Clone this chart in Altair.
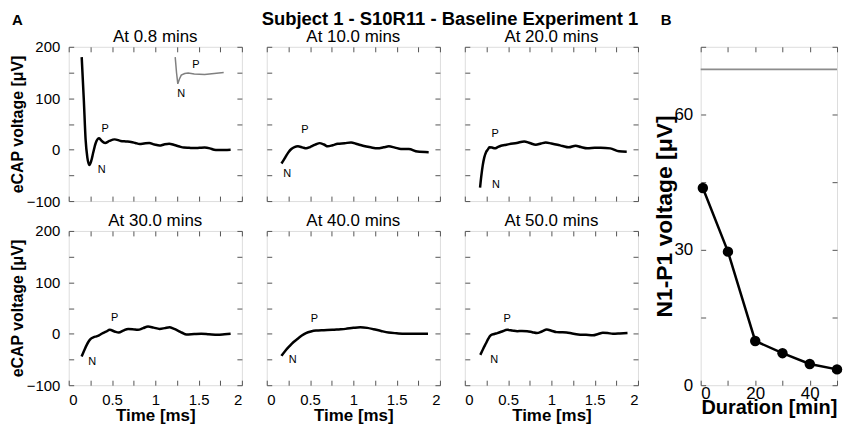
import altair as alt
import pandas as pd

FONT = "Liberation Sans"

# ---------------- data ----------------
main_title = "Subject 1 - S10R11 - Baseline Experiment 1"
titles = ["At 0.8 mins", "At 10.0 mins", "At 20.0 mins",
          "At 30.0 mins", "At 40.0 mins", "At 50.0 mins"]

t1 = [0.15, 0.175, 0.195, 0.215, 0.238, 0.26, 0.284, 0.31, 0.352, 0.38, 0.42, 0.47, 0.53, 0.6, 0.66,
      0.72, 0.77, 0.82, 0.87, 0.93, 0.99, 1.05, 1.10, 1.16, 1.22, 1.28, 1.33, 1.39, 1.45, 1.51,
      1.57, 1.63, 1.68, 1.72, 1.80, 1.87]
v1 = [180, 95, 20, -15, -30, -22, -5, 12, 22, 17, 13, 17, 20, 17, 16,
      15, 13, 11, 12, 13, 10, 8, 10, 11.5, 9, 6, 4, 3.5, 3, 3.5,
      4, 2.5, 0, -0.6, -0.5, 0]

t2 = [0.17, 0.2, 0.226, 0.255, 0.284, 0.32, 0.36, 0.41, 0.456, 0.5, 0.533, 0.57, 0.61, 0.66, 0.705,
      0.76, 0.82, 0.9, 0.973, 1.04, 1.11, 1.2, 1.28, 1.35, 1.41, 1.48, 1.55, 1.64, 1.74, 1.87]
v2 = [-27, -19, -11.5, -4, 1.3, 5, 6.4, 4.5, 2.5, 5, 7.6, 10.5, 12.7, 10, 6.4,
      8.5, 11.5, 12.5, 14, 11, 7.6, 4.5, 2.5, 4.5, 6.4, 4, 1.3, 1.3, -3.8, -5]

t3 = [0.176, 0.19, 0.207, 0.225, 0.245, 0.265, 0.284, 0.315, 0.349, 0.38, 0.418, 0.46, 0.513, 0.6,
      0.686, 0.75, 0.82, 0.88, 0.935, 1.0, 1.07, 1.13, 1.2, 1.28, 1.34, 1.414, 1.5, 1.57, 1.68,
      1.78, 1.87]
v3 = [-74, -52, -30.6, -15, -5, 0, 4.5, 4, 2.5, 5, 7.6, 9, 10.8, 13,
      16, 13, 9.5, 12, 14, 12, 9.5, 7, 4.5, 7.6, 5, 2.5, 3.5, 3.8, 2.5,
      -3, -4]

t4 = [0.149, 0.18, 0.207, 0.23, 0.257, 0.29, 0.32, 0.35, 0.38, 0.43, 0.475, 0.53, 0.578, 0.63,
      0.686, 0.74, 0.8, 0.86, 0.916, 0.98, 1.05, 1.11, 1.165, 1.21, 1.26, 1.31, 1.36, 1.45, 1.53,
      1.62, 1.72, 1.8, 1.87]
v4 = [-44, -32, -22, -15, -9.5, -6.5, -5, -3, 0, 4, 7.6, 4.5, 2.5, 6,
      9.5, 9, 7.6, 11, 14, 12, 9.5, 11, 12.7, 10, 6.3, 2, -1.3, -0.5, 0,
      -1, -2, -1, 0]

t5 = [0.17, 0.215, 0.263, 0.31, 0.358, 0.405, 0.453, 0.51, 0.568, 0.66, 0.757, 0.83, 0.91, 1.0,
      1.08, 1.16, 1.234, 1.32, 1.405, 1.5, 1.596, 1.73, 1.862]
v5 = [-43, -33, -24, -16, -9.5, -3.5, 1.3, 4.5, 6.3, 7, 7.6, 8.5, 9.5, 11.5,
      12.7, 11.5, 8.9, 5.5, 2.5, 1, 0, 0, 0]

t6 = [0.179, 0.21, 0.243, 0.27, 0.3, 0.34, 0.376, 0.43, 0.49, 0.545, 0.605, 0.66, 0.72, 0.78,
      0.833, 0.89, 0.947, 1.0, 1.06, 1.12, 1.175, 1.24, 1.31, 1.4, 1.48, 1.54, 1.594, 1.65, 1.71,
      1.79, 1.879]
v6 = [-41, -30, -19, -10, -3, -0.5, 1.3, 4.5, 7.6, 6.5, 5, 5.5, 5, 3,
      1.3, 4.5, 8.2, 6, 3.2, 3, 2.5, 0.5, -1.3, -2, -3, -0.5, 2, 1.5, 0,
      0.5, 1.3]

traces_t = [t1, t2, t3, t4, t5, t6]
traces_v = [v1, v2, v3, v4, v5, v6]

# N / P peak annotations (time, voltage)
p_pos = [(0.42, 41), (0.44, 38), (0.35, 30), (0.53, 31.6), (0.55, 28.5), (0.49, 28.5)]
n_pos = [(0.38, -40), (0.235, -48), (0.36, -69), (0.27, -55.7), (0.30, -52), (0.34, -52)]

# inset trace in first panel
inset_t = [1.23, 1.245, 1.26, 1.28, 1.30, 1.34, 1.38, 1.45, 1.57, 1.79]
inset_v = [180, 150, 128, 138, 145, 148, 149, 147, 146, 150]
inset_labels_t = [1.47, 1.30]
inset_labels_v = [165, 108]
inset_labels = ["P", "N"]

# panel B
duration = [0.8, 10, 20, 30, 40, 50]
n1p1 = [43.7, 29.6, 9.8, 7.1, 4.7, 3.5]
threshold = [70]

x_ticks_a = [0, 0.25, 0.5, 0.75, 1, 1.25, 1.5, 1.75, 2]
y_ticks_a = [-100, -50, 0, 50, 100, 150, 200]
x_ticks_b = [0, 10, 20, 30, 40, 50]
y_ticks_b = [0, 15, 30, 45, 60, 75]

# ---------------- styling ----------------
W, H = 174, 155
WB = 137
TICK = "#555555"


def axis(orient, values, show_labels, label_expr=None, title=None, **kw):
    args = dict(orient=orient, values=values, tickSize=5, offset=-5, domain=False,
                grid=False, tickColor=TICK, tickWidth=1, labels=show_labels,
                labelOverlap=False, labelFont=FONT, labelColor="black",
                titleFont=FONT, titleColor="black", titleFontWeight="bold")
    if show_labels and label_expr:
        args["labelExpr"] = label_expr
    args["title"] = title if title else None
    args.update(kw)
    return alt.Axis(**args)


def text_at(s, x, y, size, weight="normal", align="center", baseline="alphabetic"):
    return alt.Chart(pd.DataFrame({"s": [s]})).mark_text(
        font=FONT, fontSize=size, fontWeight=weight, align=align, baseline=baseline,
        color="black").encode(x=alt.value(x), y=alt.value(y), text="s:N")


def panel(i):
    row, col = divmod(i, 3)
    df = pd.DataFrame({"t": traces_t[i], "v": traces_v[i]})
    xs = alt.Scale(domain=[0, 2], nice=False)
    ys = alt.Scale(domain=[-100, 200], nice=False)
    show_x = row == 1
    show_y = col == 0
    bottom = axis("bottom", x_ticks_a, show_x,
                  "datum.value % 0.5 == 0 ? datum.label : ''",
                  "Time [ms]" if show_x else None,
                  labelFontSize=15, labelPadding=7, titleFontSize=17, titlePadding=0,
                  format="~g")
    left = axis("left", y_ticks_a, show_y,
                "datum.value % 100 == 0 ? datum.label : ''",
                "eCAP voltage [μV]" if show_y else None,
                labelFontSize=15, labelPadding=9, titleFontSize=16, titlePadding=1)
    top = axis("top", x_ticks_a, False)
    right = axis("right", y_ticks_a, False)

    line = alt.Chart(df).mark_line(color="black", strokeWidth=2.5,
                                   interpolate="monotone").encode(
        x=alt.X("t:Q", scale=xs, axis=bottom),
        y=alt.Y("v:Q", scale=ys, axis=left),
    )
    lab = pd.DataFrame({"t": [p_pos[i][0], n_pos[i][0]],
                        "v": [p_pos[i][1], n_pos[i][1]],
                        "s": ["P", "N"]})
    texts = alt.Chart(lab).mark_text(font=FONT, fontSize=11, color="black").encode(
        x=alt.X("t:Q", scale=xs, axis=top),
        y=alt.Y("v:Q", scale=ys, axis=right),
        text="s:N",
    )
    layers = [line, texts, text_at(titles[i], W / 2, -5, 17)]
    if i == 0:
        ins = pd.DataFrame({"t": inset_t, "v": inset_v})
        layers.append(alt.Chart(ins).mark_line(color="#808080", strokeWidth=1.5).encode(
            x=alt.X("t:Q", scale=xs, axis=None), y=alt.Y("v:Q", scale=ys, axis=None)))
        insl = pd.DataFrame({"t": inset_labels_t, "v": inset_labels_v, "s": inset_labels})
        layers.append(alt.Chart(insl).mark_text(font=FONT, fontSize=11, color="black").encode(
            x=alt.X("t:Q", scale=xs, axis=None), y=alt.Y("v:Q", scale=ys, axis=None),
            text="s:N"))
        layers.append(text_at("A", -57, -34, 15, "bold", "left", "top"))
        layers.append(text_at(main_title, 383, -22, 18.5, "bold"))
    return alt.layer(*layers).resolve_axis(x="independent", y="independent").properties(
        width=W, height=H)


grid = alt.concat(*[panel(i) for i in range(6)], columns=3,
                  spacing={"row": 30, "column": 25}, bounds="flush")

# panel B
dfb = pd.DataFrame({"d": duration, "n": n1p1})
xsb = alt.Scale(domain=[0, 50], nice=False)
ysb = alt.Scale(domain=[0, 75], nice=False)
b_bottom = axis("bottom", x_ticks_b, True, "datum.value % 20 == 0 ? datum.label : ''",
                "Duration [min]", labelFontSize=17, labelPadding=0, titleFontSize=20,
                titlePadding=-4)
b_left = axis("left", y_ticks_b, True, "datum.value % 30 == 0 ? datum.label : ''",
              "N1-P1 voltage [μV]", labelFontSize=17, labelPadding=8, titleFontSize=23,
              titlePadding=-3)
b_top = axis("top", x_ticks_b, False)
b_right = axis("right", y_ticks_b, False)

rule = alt.Chart(pd.DataFrame({"y": threshold})).mark_rule(
    color="#8c8c8c", strokeWidth=2).encode(y=alt.Y("y:Q", scale=ysb, axis=None))
bline = alt.Chart(dfb).mark_line(color="black", strokeWidth=2.5).encode(
    x=alt.X("d:Q", scale=xsb, axis=b_bottom), y=alt.Y("n:Q", scale=ysb, axis=b_left))
bpts = alt.Chart(dfb).mark_circle(color="black", size=110, opacity=1).encode(
    x=alt.X("d:Q", scale=xsb, axis=b_top), y=alt.Y("n:Q", scale=ysb, axis=b_right))

panel_b = alt.layer(rule, bline, bpts, text_at("B", -40, -34, 15, "bold", "left", "top")
                    ).resolve_axis(x="independent", y="independent").properties(
    width=WB, height=2 * H + 30)

chart = alt.hconcat(grid, panel_b, spacing=14).configure_view(
    stroke="#555555", strokeWidth=1).configure(font=FONT, padding=0)

chart.save("out.html", embed_options={"renderer": "svg", "actions": False})
